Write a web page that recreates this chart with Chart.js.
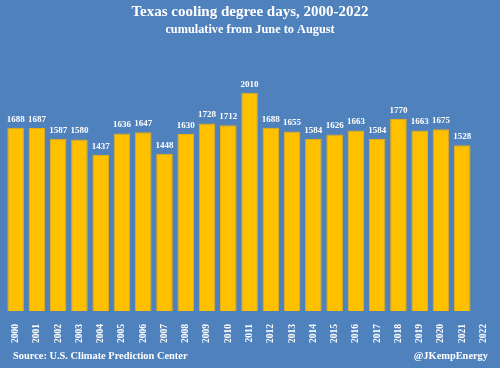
<!DOCTYPE html>
<html><head><meta charset="utf-8">
<script src="https://cdn.jsdelivr.net/npm/chart.js@4"></script>
<style>
html,body{margin:0;padding:0;background:#4F81BD;}
#wrap{position:relative;width:500px;height:368px;background:#4F81BD;}
canvas{position:absolute;left:0;top:0;}
.foot{position:absolute;top:350px;font:bold 10.4px "Liberation Serif",serif;color:#fff;}
</style></head>
<body><div id="wrap"><canvas id="c" width="500" height="368"></canvas>
<div class="foot" style="left:13px">Source: U.S. Climate Prediction Center</div>
<div class="foot" style="right:12px">@JKempEnergy</div></div>
<script>
const years = ["2000","2001","2002","2003","2004","2005","2006","2007","2008","2009","2010","2011","2012","2013","2014","2015","2016","2017","2018","2019","2020","2021","2022"];
const cdd = [1688,1687,1587,1580,1437,1636,1647,1448,1630,1728,1712,2010,1688,1655,1584,1626,1663,1584,1770,1663,1675,1528,null];
const titleText = "Texas cooling degree days, 2000-2022";
const subtitleText = "cumulative from June to August";

const labelPlugin = {
  id:'vals',
  afterDatasetsDraw(chart){
    const ctx = chart.ctx;
    const meta = chart.getDatasetMeta(0);
    ctx.save();
    ctx.fillStyle = '#fff';
    ctx.font = 'bold 9px "Liberation Serif", serif';
    ctx.textAlign = 'center';
    ctx.textBaseline = 'bottom';
    meta.data.forEach((bar,i)=>{
      if (cdd[i]==null) return;
      ctx.fillText(String(cdd[i]), bar.x, bar.y - 4);
    });
    ctx.restore();
  }
};

new Chart(document.getElementById('c'), {
  type:'bar',
  data:{labels:years, datasets:[{data:cdd, backgroundColor:'#FFC000', borderColor:'#E8AD14', borderWidth:1, barPercentage:0.78, categoryPercentage:1}]},
  options:{
    responsive:false, animation:false,
    layout:{padding:{left:5,right:5,top:0,bottom:20}},
    plugins:{
      legend:{display:false}, tooltip:{enabled:false},
      title:{display:true, text:titleText, color:'#fff', font:{family:'"Liberation Serif", serif', size:15, weight:'bold'}, padding:{top:3,bottom:1}},
      subtitle:{display:true, text:subtitleText, color:'#fff', font:{family:'"Liberation Serif", serif', size:12.3, weight:'bold'}, padding:{top:0,bottom:4}}
    },
    scales:{
      x:{grid:{display:false}, border:{display:false}, ticks:{color:'#fff', minRotation:90, maxRotation:90, padding:5, font:{family:'"Liberation Serif", serif', size:9.5, weight:'bold'}}},
      y:{display:false, min:0, max:2490}
    }
  },
  plugins:[labelPlugin]
});
</script></body></html>
